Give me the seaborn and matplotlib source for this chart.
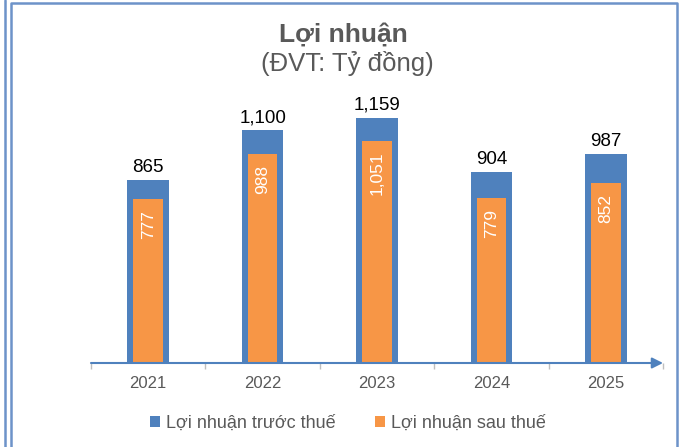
import matplotlib
matplotlib.use("Agg")
import matplotlib.pyplot as plt
from matplotlib.lines import Line2D
from matplotlib.patches import Patch
import pandas as pd
import seaborn as sns

years = ["2021", "2022", "2023", "2024", "2025"]
pre_tax = [865, 1100, 1159, 904, 987]
post_tax = [777, 988, 1051, 779, 852]
series_names = ["Lợi nhuận trước thuế", "Lợi nhuận sau thuế"]
title = "Lợi nhuận"
subtitle = "(ĐVT: Tỷ đồng)"

BLUE = "#4F81BD"
ORANGE = "#F79646"
GREY = "#595959"
FRAME = "#6D93C9"


def main():
    frame = pd.DataFrame({"year": years, "pre": pre_tax, "post": post_tax})

    sns.set_theme(style="white", rc={"axes.spines.right": False,
                                      "axes.spines.top": False,
                                      "axes.spines.left": False,
                                      "axes.spines.bottom": False})
    plt.rcParams["font.family"] = ["Liberation Sans", "DejaVu Sans"]

    W, H = 683, 447
    fig = plt.figure(figsize=(W / 100, H / 100), dpi=100)
    ax = fig.add_axes([91 / W, (H - 363) / H, (663 - 91) / W, 275 / H])

    sns.barplot(data=frame, x="year", y="pre", color=BLUE, saturation=1,
                width=0.365, edgecolor="none", linewidth=0, ax=ax)
    sns.barplot(data=frame, x="year", y="post", color=ORANGE, saturation=1,
                width=0.26, edgecolor="none", linewidth=0, ax=ax)
    ax.set_xlim(-0.5, 4.5)
    ax.set_ylim(0, 1300)
    ax.set(xlabel="", ylabel="")
    ax.set_yticks([])

    ax.bar_label(ax.containers[0], labels=[f"{v:,}" for v in pre_tax],
                 padding=3, fontsize=13.5, color="#000000")
    ax.bar_label(ax.containers[1], labels=[f"{v:,}" for v in post_tax],
                 label_type="edge", padding=-8, rotation=90, fontsize=12.5,
                 color="white")
    for t in ax.texts[len(pre_tax):]:
        t.set_va("top")

    ax.tick_params(axis="x", which="major", length=0, pad=9,
                   labelsize=12, labelcolor=GREY)
    ax.set_xticks([x - 0.5 for x in range(len(years) + 1)], minor=True)
    ax.tick_params(axis="x", which="minor", length=4, color="#BFBFBF",
                   width=1, direction="out", bottom=True)

    ax.annotate("", xy=(4.5, 0), xytext=(-0.5, 0),
                xycoords="data", annotation_clip=False,
                arrowprops=dict(arrowstyle="-|>", color=BLUE, lw=1.5,
                                mutation_scale=16, shrinkA=0, shrinkB=0))

    fig.text(343 / W, 1 - 35 / H, title, ha="center", va="center",
             fontsize=19, fontweight="bold", color=GREY)
    fig.text(347 / W, 1 - 63 / H, subtitle, ha="center", va="center",
             fontsize=18.5, color=GREY)

    handles = [Patch(facecolor=BLUE, edgecolor="none"),
               Patch(facecolor=ORANGE, edgecolor="none")]
    fig.legend(handles, series_names, loc="center",
               bbox_to_anchor=(348 / W, 1 - 423 / H), ncol=2, frameon=False,
               handlelength=0.55, handleheight=0.55, handletextpad=0.35,
               columnspacing=2.2, fontsize=13, labelcolor=GREY)

    # chart frame lines
    fig.add_artist(Line2D([4.5 / W, 4.5 / W], [0, 1], color=FRAME, lw=1.8))
    fig.add_artist(Line2D([10.5 / W, 10.5 / W, 677 / W, 677 / W],
                          [0, 1 - 3 / H, 1 - 3 / H, 0], color=FRAME, lw=1.8))

    fig.savefig("out.png", dpi=100)


if __name__ == "__main__":
    main()
